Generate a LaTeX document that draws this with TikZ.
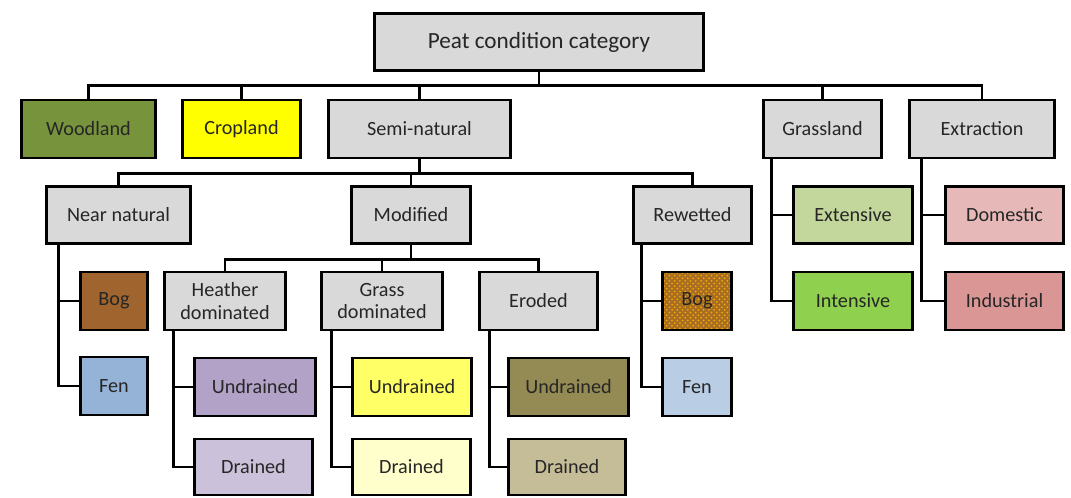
\documentclass[tikz,border=0pt]{standalone}
\usepackage{fontspec}
\setmainfont{Carlito}
\usepackage{xcolor}
\usetikzlibrary{patterns}

\definecolor{boxgray}{HTML}{D9D9D9}
\definecolor{woodgreen}{HTML}{77933C}
\definecolor{cropyellow}{HTML}{FFFF00}
\definecolor{extgreen}{HTML}{C3D69B}
\definecolor{intgreen}{HTML}{8FD14F}
\definecolor{dompink}{HTML}{E6B9B8}
\definecolor{indpink}{HTML}{D99694}
\definecolor{bogbrown}{HTML}{A0652F}
\definecolor{rebog}{HTML}{A86E22}
\definecolor{fenblue}{HTML}{95B3D7}
\definecolor{fenlight}{HTML}{B9CDE5}
\definecolor{heathund}{HTML}{B3A2C7}
\definecolor{heathdr}{HTML}{CCC1DA}
\definecolor{grassund}{HTML}{FFFF66}
\definecolor{grassdr}{HTML}{FFFFCC}
\definecolor{erodund}{HTML}{948A54}
\definecolor{eroddr}{HTML}{C4BD97}

\begin{document}
\begin{tikzpicture}[x=0.02cm, y=-0.02cm,
    box/.style={draw=black, line width=1.6pt, fill=boxgray, text=black!85,
        font=\fontsize{11.5}{13}\selectfont, align=center, inner sep=2pt,
        minimum height=1.16cm},
    link/.style={line width=1.6pt}]

    \useasboundingbox (0,0) rectangle (1071,497);

    % Root
    \node[box, minimum width=6.58cm, minimum height=1.14cm, font=\fontsize{13.2}{15}\selectfont] (root) at (539,42) {Peat condition category};

    % Level 1
    \node[box, fill=woodgreen, minimum width=2.68cm] (wood) at (88.5,129) {Woodland};
    \node[box, fill=cropyellow, minimum width=2.36cm] (crop) at (241.5,129) {Cropland};
    \node[box, minimum width=3.64cm] (semi) at (419.5,129) {Semi-natural};
    \node[box, minimum width=2.36cm] (grass) at (822.5,129) {Grassland};
    \node[box, minimum width=2.9cm] (extr) at (982,129) {Extraction};

    % Level 2
    \node[box, minimum width=2.88cm, minimum height=1.14cm] (near) at (118.5,215) {Near natural};
    \node[box, minimum width=2.38cm, minimum height=1.14cm] (modi) at (411,215) {Modified};
    \node[box, minimum width=2.36cm, minimum height=1.14cm] (rewet) at (692.5,215) {Rewetted};
    \node[box, fill=extgreen, minimum width=2.38cm, minimum height=1.14cm] (ext) at (853,215) {Extensive};
    \node[box, fill=dompink, minimum width=2.36cm, minimum height=1.14cm] (dome) at (1004.5,215) {Domestic};

    % Level 3
    \node[box, fill=bogbrown, minimum width=1.34cm] (bogA) at (114,301) {Bog};
    \node[box, minimum width=2.42cm] (heath) at (225,301) {Heather\\dominated};
    \node[box, minimum width=2.42cm] (grd) at (382,301) {Grass\\dominated};
    \node[box, minimum width=2.36cm] (erod) at (538.5,301) {Eroded};
    \node[box, preaction={fill=rebog}, pattern=crosshatch dots, pattern color=orange!60!yellow,
        minimum width=1.38cm] (bogB) at (697,301) {Bog};
    \node[box, fill=intgreen, minimum width=2.38cm] (inten) at (853,301) {Intensive};
    \node[box, fill=indpink, minimum width=2.36cm] (indu) at (1004.5,301) {Industrial};

    % Level 4
    \node[box, fill=fenblue, minimum width=1.34cm] (fenA) at (114,386) {Fen};
    \node[box, fill=heathund, minimum width=2.42cm] (undA) at (255,387) {Undrained};
    \node[box, fill=grassund, minimum width=2.38cm] (undB) at (412,387) {Undrained};
    \node[box, fill=erodund, minimum width=2.4cm] (undC) at (568.5,387) {Undrained};
    \node[box, fill=fenlight, minimum width=1.38cm] (fenB) at (697,387) {Fen};

    % Level 5
    \node[box, fill=heathdr, minimum width=2.36cm, minimum height=1.12cm] (drA) at (253.5,467) {Drained};
    \node[box, fill=grassdr, minimum width=2.36cm, minimum height=1.12cm] (drB) at (411.5,467) {Drained};
    \node[box, fill=eroddr, minimum width=2.34cm, minimum height=1.12cm] (drC) at (567,467) {Drained};

    % Tree connectors
    \foreach \c in {wood, crop, semi, grass, extr}{
        \draw[link] (root.south) -- ++(0,14) -| (\c.north);
    }
    \foreach \c in {near, modi, rewet}{
        \draw[link] (semi.south) -- ++(0,14.5) -| (\c.north);
    }
    \foreach \c in {heath, grd, erod}{
        \draw[link] (modi.south) -- ++(0,14.5) -| (\c.north);
    }

    % Side connectors
    \foreach \p/\c/\s in {
        near/bogA/0.27, near/fenA/0.27,
        heath/undA/0.21, heath/drA/0.21,
        grd/undB/0.23, grd/drB/0.23,
        erod/undC/0.23, erod/drC/0.23,
        rewet/bogB/0.19, rewet/fenB/0.19,
        grass/ext/0.19, grass/inten/0.19,
        extr/dome/0.27, extr/indu/0.27
    }{
        \draw[link] ([xshift=\s cm]\p.south west) |- (\c.west);
    }

\end{tikzpicture}
\end{document}
